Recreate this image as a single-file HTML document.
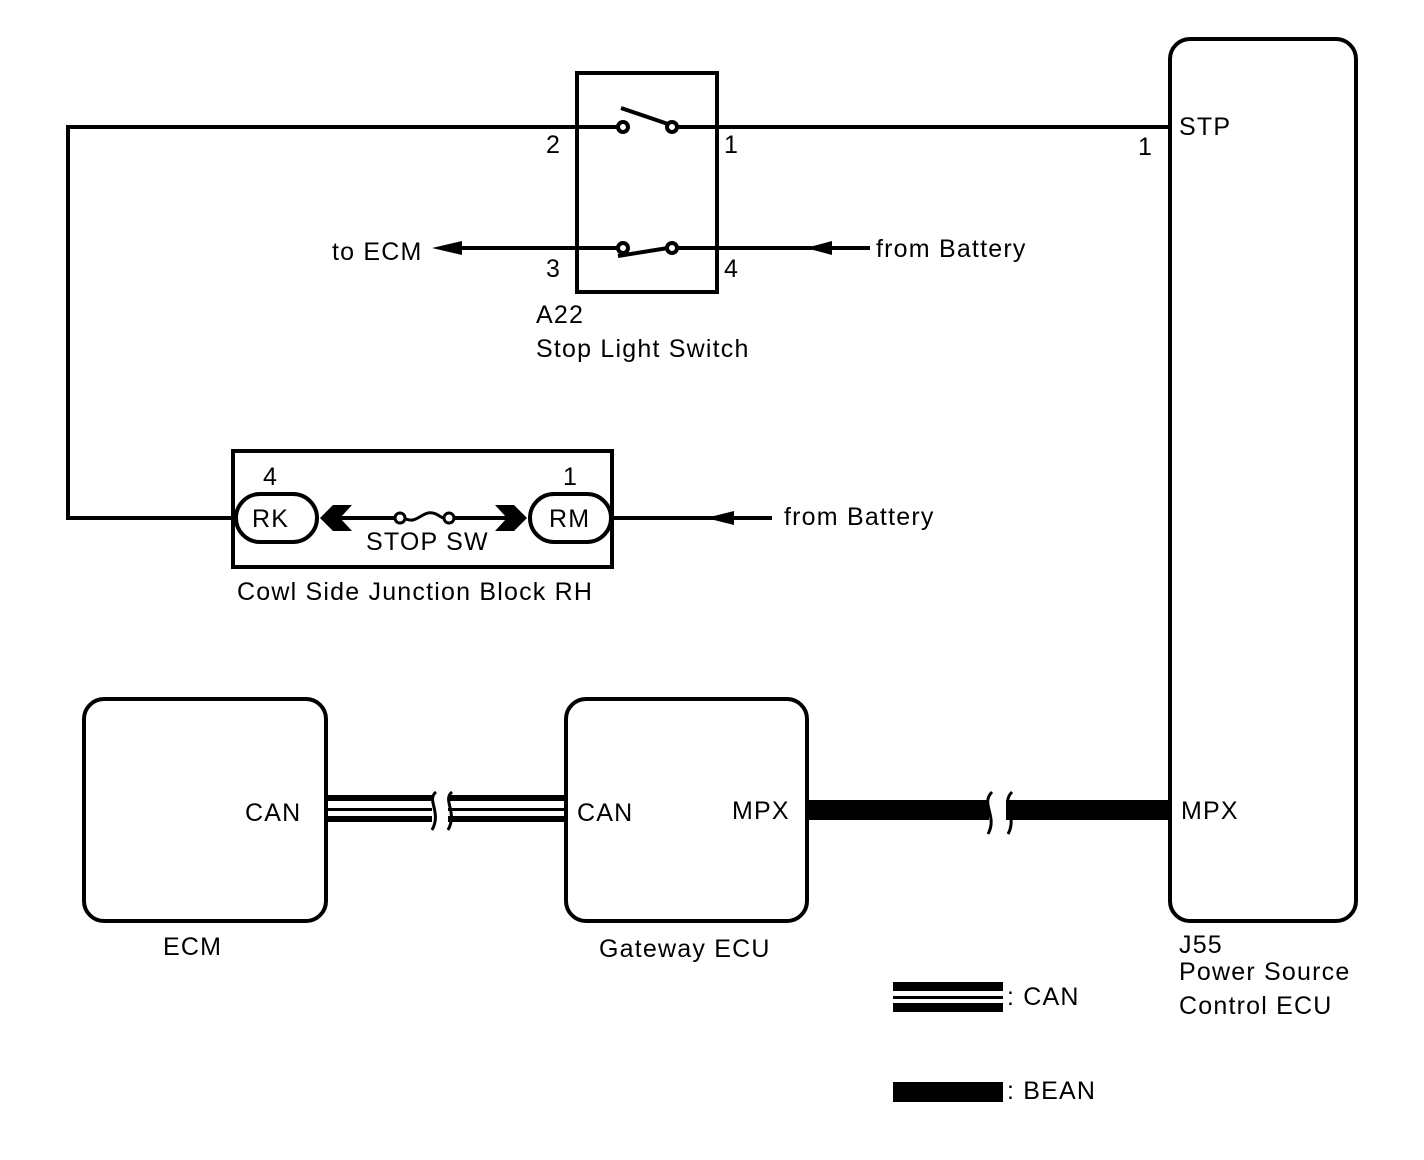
<!DOCTYPE html>
<html><head><style>html,body{margin:0;padding:0;background:#fff}svg{display:block}text{font-family:"Liberation Sans",Arial,sans-serif;font-size:25px;fill:#000;letter-spacing:1.2px}</style></head>
<body>
<svg width="1424" height="1160" viewBox="0 0 1424 1160" xmlns="http://www.w3.org/2000/svg">
<g fill="none" stroke="#000" stroke-width="4">
<rect x="577" y="73" width="140" height="219"/>
<polyline points="1170,127 672,127"/>
<polyline points="623,127 68,127 68,518 235,518"/>
<line x1="621" y1="108" x2="668" y2="124"/>
<circle cx="623" cy="127" r="5" fill="#fff"/>
<circle cx="672" cy="127" r="5" fill="#fff"/>
<line x1="445" y1="248" x2="623" y2="248"/>
<line x1="672" y1="248" x2="870" y2="248"/>
<line x1="618" y1="256" x2="668" y2="248"/>
<circle cx="623" cy="248" r="5" fill="#fff"/>
<circle cx="672" cy="248" r="5" fill="#fff"/>
<rect x="233" y="451" width="379" height="116"/>
<rect x="236" y="494" width="81" height="48" rx="24" fill="#fff"/>
<rect x="530" y="494" width="81" height="48" rx="24" fill="#fff"/>
<line x1="612" y1="518" x2="772" y2="518"/>
<line x1="330" y1="518" x2="400" y2="518"/>
<line x1="449" y1="518" x2="515" y2="518"/>
<path d="M404 518 C418 526, 422 508, 436 514 C440 516,442 518,444 518" stroke-width="3"/>
<circle cx="400" cy="518" r="5" fill="#fff" stroke-width="3"/>
<circle cx="449" cy="518" r="5" fill="#fff" stroke-width="3"/>
<rect x="84" y="699" width="242" height="222" rx="20"/>
<rect x="566" y="699" width="241" height="222" rx="20"/>
<rect x="1170" y="39" width="186" height="882" rx="20"/>
</g>
<polygon points="432,248 462,241 462,255"/>
<polygon points="806,248 832,241 832,255"/>
<polygon points="706,518 734,511 734,525"/>
<polygon points="320,518 333,505 352,505 340,518 352,531 333,531"/>
<polygon points="527,518 514,505 495,505 507,518 495,531 514,531"/>
<g fill="#000">
<rect x="328" y="795" width="104" height="6"/><rect x="328" y="808" width="104" height="3"/><rect x="328" y="816" width="104" height="6"/>
<rect x="448" y="795" width="116" height="6"/><rect x="448" y="808" width="116" height="3"/><rect x="448" y="816" width="116" height="6"/>
<rect x="809" y="800" width="180" height="20"/>
<rect x="1006" y="800" width="164" height="20"/>
<rect x="893" y="982" width="110" height="9"/><rect x="893" y="996" width="110" height="3"/><rect x="893" y="1003" width="110" height="9"/>
<rect x="893" y="1082" width="110" height="20"/>
</g>
<g fill="none" stroke="#000" stroke-width="3">
<path d="M436 792 C426 800,442 812,432 830"/>
<path d="M452 792 C442 800,458 812,448 830"/>
<path d="M992 792 C980 804,998 816,988 834"/>
<path d="M1012 792 C1000 804,1018 816,1008 834"/>
</g>
<text x="546" y="153">2</text><text x="724" y="153">1</text>
<text x="546" y="277">3</text><text x="724" y="277">4</text>
<text x="1138" y="155">1</text><text x="1179" y="135">STP</text>
<text x="332" y="260">to ECM</text>
<text x="876" y="257">from Battery</text>
<text x="536" y="323">A22</text>
<text x="536" y="357">Stop Light Switch</text>
<text x="263" y="485">4</text><text x="563" y="485">1</text>
<text x="252" y="527">RK</text><text x="549" y="527">RM</text>
<text x="366" y="550">STOP SW</text>
<text x="784" y="525">from Battery</text>
<text x="237" y="600">Cowl Side Junction Block RH</text>
<text x="245" y="821">CAN</text>
<text x="577" y="821">CAN</text>
<text x="732" y="819">MPX</text>
<text x="1181" y="819">MPX</text>
<text x="163" y="955">ECM</text>
<text x="599" y="957">Gateway ECU</text>
<text x="1179" y="953">J55</text>
<text x="1179" y="980">Power Source</text>
<text x="1179" y="1014">Control ECU</text>
<text x="1007" y="1005">: CAN</text>
<text x="1007" y="1099">: BEAN</text>
</svg>
</body></html>
